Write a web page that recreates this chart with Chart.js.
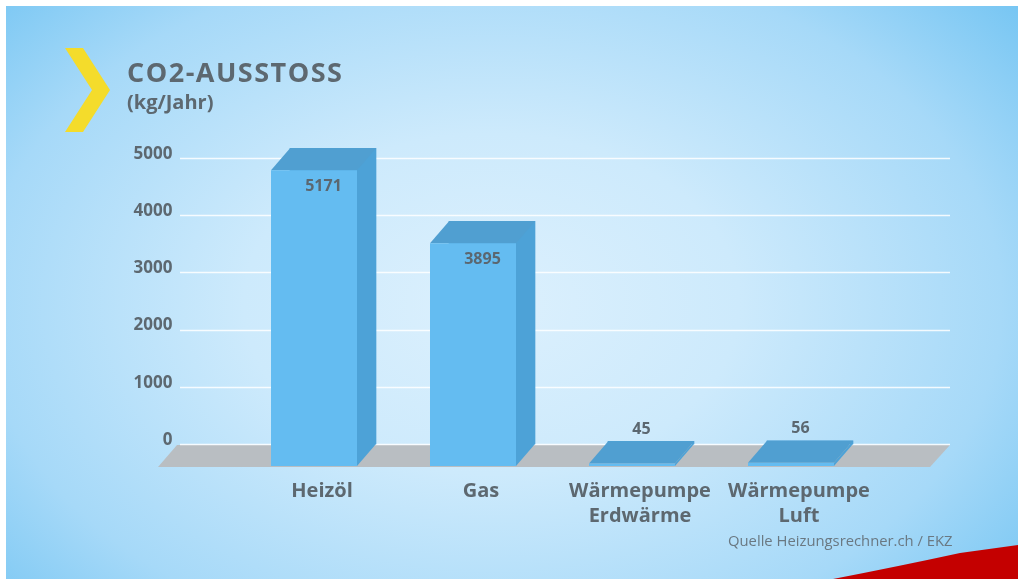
<!DOCTYPE html>
<html>
<head>
<meta charset="utf-8">
<script src="https://cdn.jsdelivr.net/npm/chart.js@4/dist/chart.umd.min.js"></script>
<style>
  body { margin: 0; background: #fff; }
  #wrap { position: relative; width: 1018px; height: 579px; overflow: hidden; font-family: "Open Sans", sans-serif; }
  #bg {
    position: absolute; left: 6px; top: 6px; right: 0; bottom: 0;
    background: radial-gradient(ellipse 70% 85% at 48% 52%, #dcf0fd 0%, #cdeafc 35%, #a6d9f8 72%, #70c3f2 100%);
  }
  #chart { position: absolute; left: 0; top: 0; }
  .txt { position: absolute; color: #5d6870; white-space: nowrap; line-height: normal; }
  #title { left: 127px; top: 53px; font-size: 27px; font-weight: 700; letter-spacing: 1.5px; }
  #unit { left: 127px; top: 88px; font-size: 20px; font-weight: 700; }
  #source { left: 728px; top: 530px; font-size: 14.8px; color: #6a7882; }
  svg { position: absolute; left: 0; top: 0; }
</style>
</head>
<body>
<div id="wrap">
  <div id="bg"></div>
  <svg width="1018" height="579">
    <polygon points="65,48 83,48 110,90 83,132 65,132 92,90" fill="#f4dc2b"/>
    <path d="M833 579 Q900 566 960 553 L1018 545 L1018 579 Z" fill="#c40000"/>
  </svg>
  <canvas id="chart" width="1018" height="579"></canvas>
  <div class="txt" id="title">CO2-AUSSTOSS</div>
  <div class="txt" id="unit">(kg/Jahr)</div>
  <div class="txt" id="source">Quelle Heizungsrechner.ch / EKZ</div>
</div>
<script>
const categories = [['Heizöl'], ['Gas'], ['Wärmepumpe', 'Erdwärme'], ['Wärmepumpe', 'Luft']];
const co2Values = [5171, 3895, 45, 56];
const yTickValues = [0, 1000, 2000, 3000, 4000, 5000];

const textColor = '#5d6870';
const dx = 19, dy = 22;

function poly(ctx, pts, color) {
    ctx.fillStyle = color;
    ctx.beginPath();
    ctx.moveTo(pts[0][0], pts[0][1]);
    for (let i = 1; i < pts.length; i++) ctx.lineTo(pts[i][0], pts[i][1]);
    ctx.closePath();
    ctx.fill();
}

// floor, grid lines and the 3D faces of the bars
const box3d = {
    id: 'box3d',
    beforeDatasetsDraw(chart) {
        const ctx = chart.ctx;
        const y = chart.scales.y;
        const z = y.getPixelForValue(0);
        ctx.save();
        poly(ctx, [[177, z + 1], [950, z + 1], [930, z + dy + 1], [158, z + dy + 1]], '#b9bec2');
        ctx.strokeStyle = 'rgba(255,255,255,0.85)';
        ctx.lineWidth = 1.5;
        y.ticks.forEach(t => {
            const py = Math.round(y.getPixelForValue(t.value)) + 0.5;
            ctx.beginPath();
            ctx.moveTo(180, py);
            ctx.lineTo(950, py);
            ctx.stroke();
        });
        ctx.restore();
    },
    afterDatasetsDraw(chart) {
        const ctx = chart.ctx;
        const meta = chart.getDatasetMeta(0);
        ctx.save();
        meta.data.forEach((bar, i) => {
            const w = bar.width;
            const bl = bar.x - w / 2, br = bar.x + w / 2;
            const top = bar.y, base = bar.base;
            const fl = bl - dx, fr = br - dx, ft = top + dy, fb = base + dy;
            poly(ctx, [[fr, ft], [br, top], [br, base], [fr, fb]], '#4da2d7');
            poly(ctx, [[fl, ft], [bl, top], [br, top], [fr, ft]], '#509fd1');
            poly(ctx, [[fl, ft], [fr, ft], [fr, fb], [fl, fb]], '#64bcf1');

            ctx.fillStyle = '#5b6770';
            ctx.font = 'bold 16px "Open Sans"';
            ctx.textAlign = 'center';
            ctx.textBaseline = 'middle';
            const cx = (fl + br) / 2;
            const ly = (fb - ft > 40) ? ft + 16 : top - 12;
            ctx.fillText(String(co2Values[i]), cx, ly);
        });
        ctx.restore();
    }
};

new Chart(document.getElementById('chart'), {
    type: 'bar',
    data: {
        labels: categories,
        datasets: [{
            data: co2Values,
            backgroundColor: '#4da2d7',
            borderWidth: 0,
            barThickness: 86,
            clip: false
        }]
    },
    options: {
        responsive: false,
        animation: false,
        events: [],
        layout: { padding: { left: 130.5, right: 128.5, top: 158, bottom: 0 } },
        plugins: { legend: { display: false }, tooltip: { enabled: false } },
        scales: {
            x: {
                grid: { display: false, drawTicks: false },
                border: { display: false },
                ticks: {
                    color: textColor,
                    font: { family: 'Open Sans', size: 20, weight: 'bold', lineHeight: 1.25 },
                    padding: 35,
                    labelOffset: -11,
                    maxRotation: 0,
                    autoSkip: false
                },
                afterFit(s) { s.height = 135; }
            },
            y: {
                min: 0,
                max: 5000,
                afterBuildTicks(s) { s.ticks = yTickValues.map(v => ({ value: v })); },
                grid: { display: false, drawTicks: false },
                border: { display: false },
                ticks: {
                    color: textColor,
                    font: { family: 'Open Sans', size: 17, weight: 'bold' },
                    padding: 81,
                    labelOffset: -4,
                    callback: v => String(v)
                },
                afterFit(s) { s.width = 123; }
            }
        }
    },
    plugins: [box3d]
});
</script>
</body>
</html>
